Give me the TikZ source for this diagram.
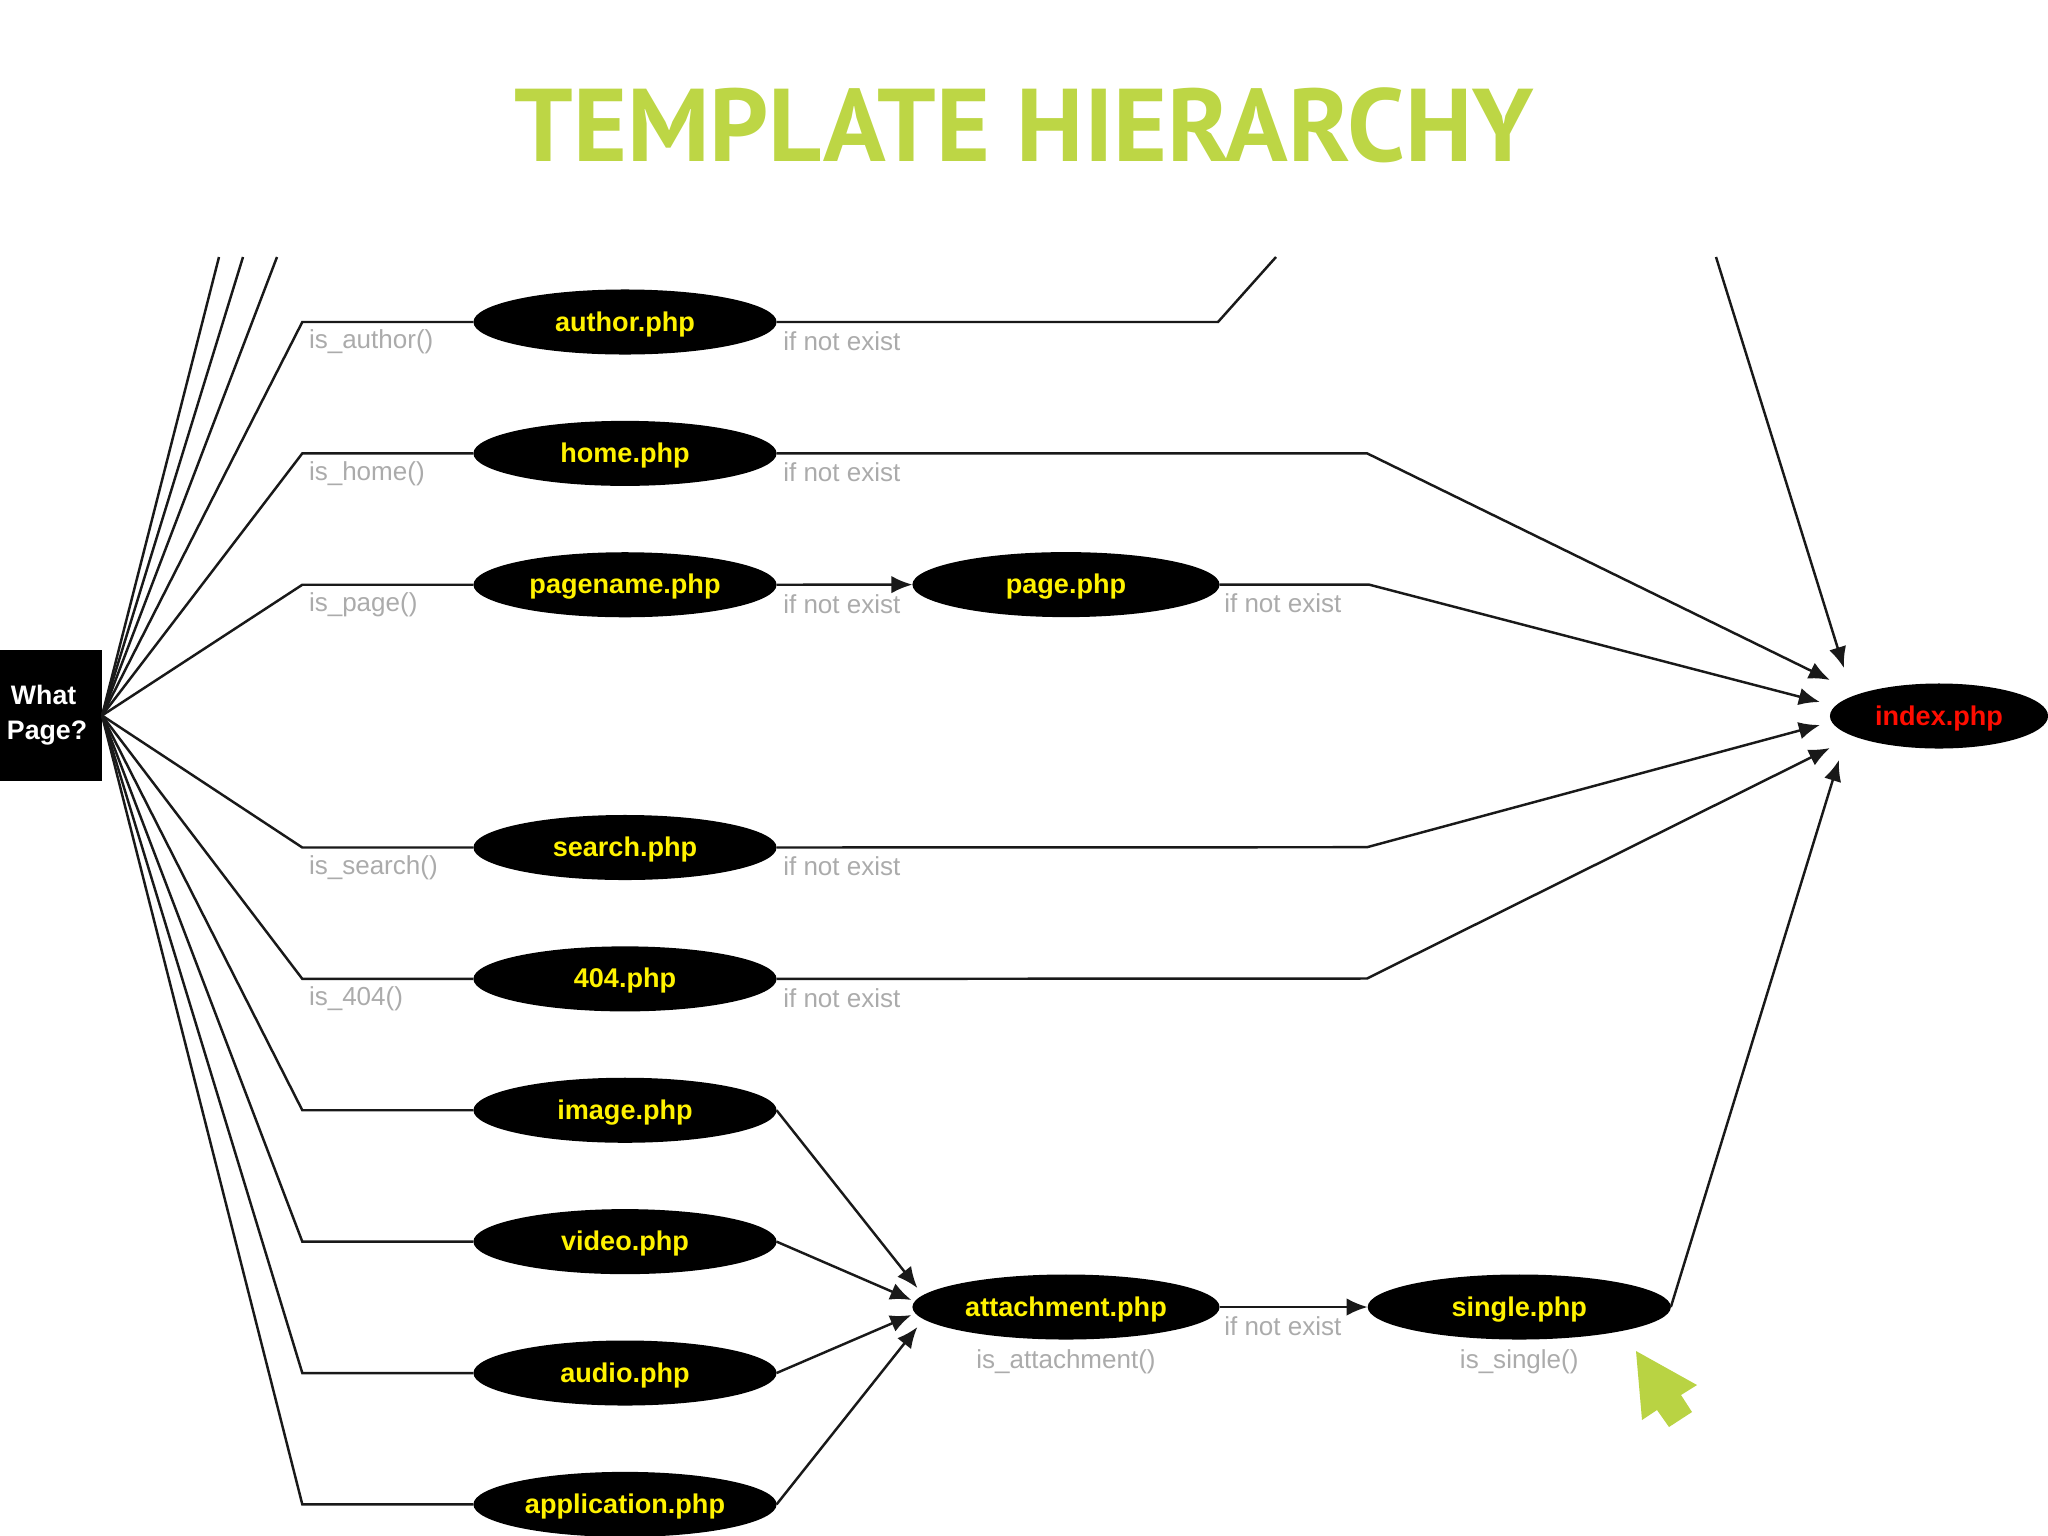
\documentclass[tikz,border=0pt]{standalone}
\usepackage{fontspec}
\setmainfont{Liberation Sans}
\newfontfamily\titlefont{PT Sans}
\usetikzlibrary{positioning, arrows.meta, shapes.geometric}
\definecolor{titlegreen}{HTML}{BDD645}
\definecolor{cursorgreen}{HTML}{B9D343}
\begin{document}
\begin{tikzpicture}[
    x=0.01cm, y=-0.01cm,
    vertex/.style={fill=black, ellipse, outer sep=0pt, minimum width=3.03cm, minimum height=0.65cm, inner sep=0pt, text height=2.15mm, text depth=0.35mm, text=yellow, font=\fontsize{7.7}{9}\selectfont\bfseries},
    guard/.style={anchor=west, inner sep=0pt, text=black!33, font=\fontsize{7.4}{9}\selectfont},
    link/.style={line width=0.7pt, draw=black!90},
    >={Latex[length=6pt,width=5pt]}
]
    \useasboundingbox (0,0) rectangle (2048,1536);

    \node[text=titlegreen, inner sep=0pt, font=\fontsize{29.4}{34}\selectfont\titlefont\bfseries] (title) at (1024,125.5) {TEMPLATE HIERARCHY};

    \node[fill=black, outer sep=0pt, minimum width=1.02cm, minimum height=1.31cm, inner ysep=0pt, inner xsep=0.07cm, text width=0.88cm, align=left, text=white, font=\fontsize{7.6}{10}\selectfont\bfseries] (what) at (51,715.5) {\hspace*{0.4mm}What\\Page?};

    \node[vertex] (author) at (625,322) {author.php};
    \node[vertex, below=0.663cm of author] (home) {home.php};
    \node[vertex, below=0.663cm of home] (pagename) {pagename.php};
    \node[vertex, below=1.976cm of pagename] (search) {search.php};
    \node[vertex, below=0.663cm of search] (notfound) {404.php};
    \node[vertex, below=0.663cm of notfound] (image) {image.php};
    \node[vertex, below=0.663cm of image] (video) {video.php};
    \node[vertex, below=0.663cm of video] (audio) {audio.php};
    \node[vertex, below=0.663cm of audio] (application) {application.php};

    \node[vertex, minimum width=3.07cm] (page) at (1066,584.6) {page.php};
    \node[vertex, minimum width=3.07cm] (attachment) at (1066,1307) {attachment.php};
    \node[vertex, right=1.48cm of attachment] (single) {single.php};
    \node[vertex, minimum width=2.18cm, text=red!90!orange] (index) at (1939,716) {index.php};

    \coordinate (upa) at (219,257);
    \coordinate (upb) at (243,257);
    \coordinate (upc) at (277,257);
    \coordinate (authorbend) at (1218,322);
    \coordinate (authorup) at (1276,257);
    \coordinate (topin) at (1716,257);
    \coordinate (homebend) at (1367,453.3);
    \coordinate (pagebend) at (1369,584.6);
    \coordinate (searchbend) at (1367,847.2);
    \coordinate (notfoundbend) at (1367,978.5);

    \coordinate (tipa) at ([shift={(14,-48)}]index.west);
    \coordinate (tipb) at ([shift={(0,-36)}]index.west);
    \coordinate (tipc) at ([shift={(-10,-14)}]index.west);
    \coordinate (tipd) at ([shift={(-10,9)}]index.west);
    \coordinate (tipe) at ([shift={(0,32)}]index.west);
    \coordinate (tipf) at ([shift={(9,44)}]index.west);

    \coordinate (tipg) at ([shift={(5,-19)}]attachment.west);
    \coordinate (tiph) at ([shift={(-1,-7)}]attachment.west);
    \coordinate (tipi) at ([shift={(-1,8)}]attachment.west);
    \coordinate (tipj) at ([shift={(5,20)}]attachment.west);

    \draw[link] (what.east) -- (upa);
    \draw[link] (what.east) -- (upb);
    \draw[link] (what.east) -- (upc);

    \foreach \n/\t in {author/is\_author(), home/is\_home(), pagename/is\_page(), search/is\_search(), notfound/is\_404(), image/, video/, audio/, application/} {
        \coordinate[left=1.71cm of \n] (\n-bend);
        \draw[link] (what.east) -- (\n-bend) -- (\n.west);
        \node[guard] (\n-guard) at ([shift={(6,20)}]\n-bend) {\t};
    }

    \draw[link] (author.east) -- (authorbend) -- (authorup);
    \draw[link, ->] (topin) -- (tipa);
    \draw[link, ->] (home.east) -- (homebend) -- (tipb);
    \draw[link, ->] (pagename.east) -- (page.west);
    \draw[link, ->] (page.east) -- (pagebend) -- (tipc);
    \draw[link, ->] (search.east) -- (searchbend) -- (tipd);
    \draw[link, ->] (notfound.east) -- (notfoundbend) -- (tipe);
    \draw[link, ->] (single.east) -- (tipf);

    \draw[link, ->] (image.east) -- (tipg);
    \draw[link, ->] (video.east) -- (tiph);
    \draw[link, ->] (audio.east) -- (tipi);
    \draw[link, ->] (application.east) -- (tipj);
    \draw[link, ->] (attachment.east) -- (single.west);

    \node[guard] (exista) at ([shift={(6,19)}]author.east) {if not exist};
    \node[guard] (existb) at ([shift={(6,19)}]home.east) {if not exist};
    \node[guard] (existc) at ([shift={(6,19)}]pagename.east) {if not exist};
    \node[guard] (existd) at ([shift={(4,19)}]page.east) {if not exist};
    \node[guard] (existe) at ([shift={(6,19)}]search.east) {if not exist};
    \node[guard] (existf) at ([shift={(6,19)}]notfound.east) {if not exist};
    \node[guard] (existg) at ([shift={(4,19)}]attachment.east) {if not exist};

    \node[guard, anchor=north] (isattachment) at ([yshift=-0.09cm]attachment.south) {is\_attachment()};
    \node[guard, anchor=north] (issingle) at ([yshift=-0.09cm]single.south) {is\_single()};

    \fill[cursorgreen] (1636,1351) -- (1697,1385) -- (1681,1395) -- (1692,1412) -- (1669,1427) -- (1657,1410) -- (1642,1420) -- cycle;
\end{tikzpicture}
\end{document}
